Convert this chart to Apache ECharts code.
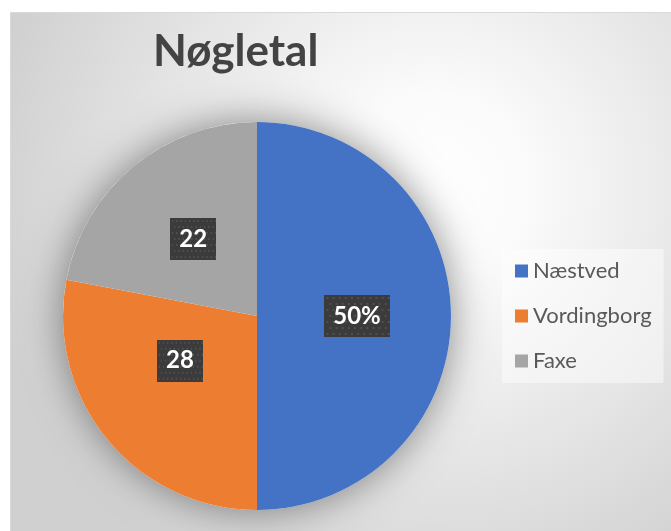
<!DOCTYPE html>
<html>
<head>
<meta charset="utf-8">
<script src="https://cdn.jsdelivr.net/npm/echarts@6/dist/echarts.min.js"></script>
<style>
  html, body { margin: 0; padding: 0; background: #fff; }
  #chart { width: 671px; height: 531px; }
</style>
</head>
<body>
<div id="chart"></div>
<script>
const categories = ['Næstved', 'Vordingborg', 'Faxe'];
const values = [50, 28, 22];
const showPercent = [true, false, false]; // Næstved's label is shown as a percentage
const colors = ['#4472C4', '#ED7D31', '#A5A5A5'];

// dark dotted fill behind the data labels
function dotPattern(w, h) {
  const c = document.createElement('canvas');
  c.width = w;
  c.height = h;
  const ctx = c.getContext('2d');
  ctx.fillStyle = '#3b3b3b';
  ctx.fillRect(0, 0, w, h);
  ctx.fillStyle = '#4f4f4f';
  for (let y = 2, row = 0; y < h; y += 6, row++) {
    for (let x = row % 2 ? 5 : 2; x < w; x += 6) ctx.fillRect(x, y, 2, 2);
  }
  return c;
}

const chart = echarts.init(document.getElementById('chart'));

const option = {
  animation: false,
  backgroundColor: '#fff',
  graphic: [{
    type: 'rect',
    z: -10,
    silent: true,
    shape: { x: 10.5, y: 12.5, width: 670, height: 530 },
    style: {
      fill: new echarts.graphic.RadialGradient(0.63, 0.33, 0.85, [
        { offset: 0, color: '#ffffff' },
        { offset: 0.2, color: '#fbfbfb' },
        { offset: 1, color: '#d0d0d0' }
      ]),
      stroke: '#d9d9d9',
      lineWidth: 1
    }
  }],
  title: {
    text: 'Nøgletal',
    left: 153,
    top: 30,
    padding: 0,
    textStyle: {
      fontFamily: 'Lato',
      fontWeight: 'bold',
      fontSize: 44,
      color: '#434343'
    }
  },
  legend: {
    data: categories,
    orient: 'vertical',
    left: 502,
    top: 249,
    padding: [10, 12, 10, 13],
    itemWidth: 13,
    itemHeight: 13,
    itemGap: 21,
    icon: 'rect',
    backgroundColor: 'rgba(255,255,255,0.45)',
    selectedMode: false,
    textStyle: {
      fontFamily: 'Lato',
      fontSize: 22,
      lineHeight: 24,
      color: '#595959'
    }
  },
  series: [
    {
      // soft shadow under the whole pie
      type: 'pie',
      z: 1,
      silent: true,
      center: [257, 316],
      radius: 194,
      label: { show: false },
      emphasis: { disabled: true },
      data: [{
        name: '',
        value: 1,
        itemStyle: { color: '#ffffff', shadowBlur: 40, shadowColor: 'rgba(0,0,0,0.45)' }
      }]
    },
    {
      type: 'pie',
      z: 2,
      center: [257, 316],
      radius: 194,
      startAngle: 90,
      clockwise: true,
      color: colors,
      emphasis: { disabled: true },
      itemStyle: { borderWidth: 0 },
      label: {
        show: true,
        position: 'inside',
        formatter: p => showPercent[p.dataIndex] ? Math.round(p.percent) + '%' : String(p.value),
        fontFamily: 'Lato',
        fontWeight: 'bold',
        fontSize: 24,
        lineHeight: 22,
        color: '#ffffff',
        padding: [10, 9],
        backgroundColor: { image: dotPattern(64, 42) },
        shadowBlur: 6,
        shadowOffsetX: 3,
        shadowOffsetY: 3,
        shadowColor: 'rgba(0,0,0,0.45)'
      },
      labelLine: { show: false },
      data: categories.map((name, i) => ({
        name,
        value: values[i],
        // Vordingborg's label sits a little higher in the original
        label: i === 1 ? { offset: [0, -19] } : undefined
      }))
    }
  ]
};

chart.setOption(option);
</script>
</body>
</html>
